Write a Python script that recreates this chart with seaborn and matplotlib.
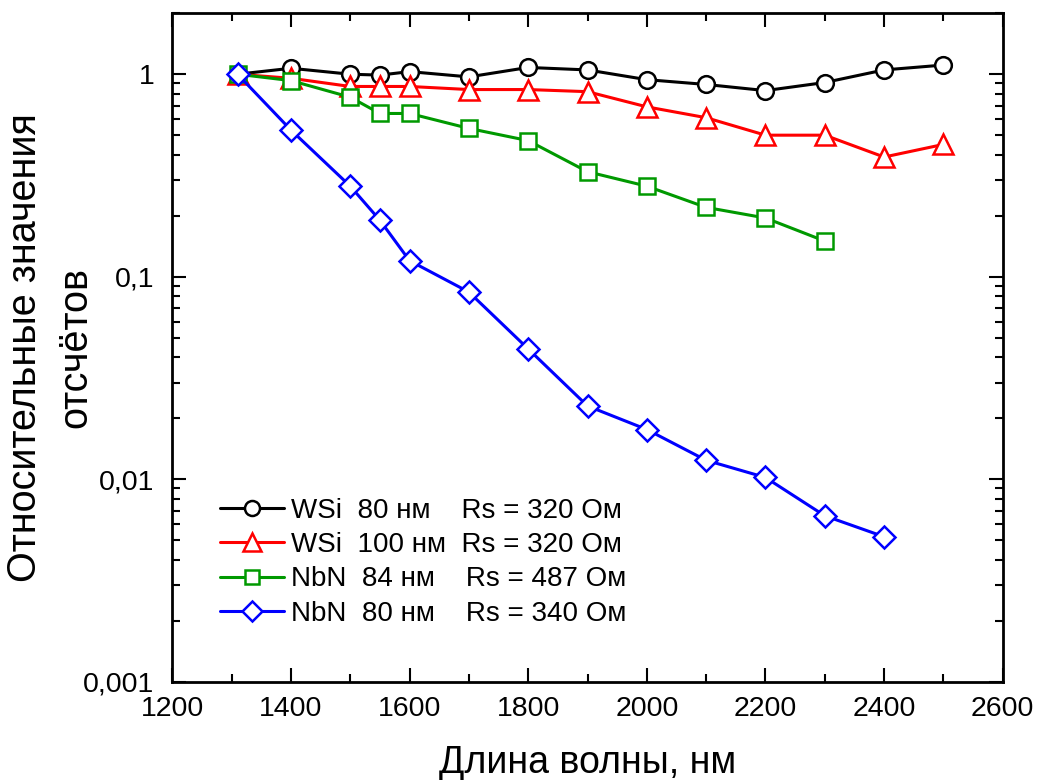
import numpy as np
import pandas as pd
import seaborn as sns
import matplotlib
matplotlib.use("Agg")
import matplotlib.pyplot as plt
from matplotlib.ticker import FixedLocator, FuncFormatter, LogLocator, NullFormatter, MultipleLocator

sns.set_style("ticks")
plt.rcParams['font.family'] = ['Liberation Sans', 'DejaVu Sans']
for k in ["text.color", "axes.labelcolor", "xtick.color", "ytick.color", "axes.edgecolor"]:
    plt.rcParams[k] = "black"

# data
wl_wsi = [1310, 1400, 1500, 1550, 1600, 1700, 1800, 1900, 2000, 2100, 2200, 2300, 2400, 2500]
wsi80 = [1.0, 1.07, 1.0, 0.99, 1.03, 0.97, 1.08, 1.05, 0.94, 0.89, 0.83, 0.91, 1.05, 1.11]
wsi100 = [1.0, 0.955, 0.87, 0.87, 0.87, 0.84, 0.84, 0.82, 0.69, 0.61, 0.50, 0.50, 0.39, 0.45]
wl_nbn84 = [1310, 1400, 1500, 1550, 1600, 1700, 1800, 1900, 2000, 2100, 2200, 2300]
nbn84 = [1.0, 0.93, 0.77, 0.64, 0.64, 0.54, 0.47, 0.33, 0.28, 0.22, 0.195, 0.15]
wl_nbn80 = [1310, 1400, 1500, 1550, 1600, 1700, 1800, 1900, 2000, 2100, 2200, 2300, 2400]
nbn80 = [1.0, 0.53, 0.28, 0.19, 0.12, 0.084, 0.044, 0.023, 0.0176, 0.0124, 0.0102, 0.0066, 0.0052]

labels = ["WSi  80 нм    Rs = 320 Ом",
          "WSi  100 нм  Rs = 320 Ом",
          "NbN  84 нм    Rs = 487 Ом",
          "NbN  80 нм    Rs = 340 Ом"]
colors = ["black", "red", "#009900", "blue"]
markers = ["o", "^", "s", "D"]
msizes = [12, 14, 11, 11]

series = [(wl_wsi, wsi80), (wl_wsi, wsi100), (wl_nbn84, nbn84), (wl_nbn80, nbn80)]

fig = plt.figure(figsize=(10.38, 7.8), dpi=100)
ax = fig.add_axes([0.166, 0.126, 0.8, 0.857])

for (x, y), lab, c, m, ms in zip(series, labels, colors, markers, msizes):
    df = pd.DataFrame({"wl": x, "val": y})
    sns.lineplot(data=df, x="wl", y="val", ax=ax, color=c, marker=m, markersize=ms,
                 markerfacecolor="white", markeredgecolor=c, markeredgewidth=1.8,
                 linewidth=2.2, label=lab)

ax.set_yscale("log")
ax.set_xlim(1200, 2600)
ax.set_ylim(0.001, 2.0)
ax.xaxis.set_major_locator(MultipleLocator(200))
ax.xaxis.set_minor_locator(MultipleLocator(100))
ax.yaxis.set_major_locator(FixedLocator([0.001, 0.01, 0.1, 1]))
ax.yaxis.set_minor_locator(LogLocator(base=10, subs=np.arange(2, 10)))
ax.yaxis.set_minor_formatter(NullFormatter())
ax.yaxis.set_major_formatter(FuncFormatter(lambda v, p: ("%g" % v).replace(".", ",")))

ax.tick_params(which="both", direction="in", top=True, right=True, width=1.5, labelsize=20.5)
ax.tick_params(which="major", length=10)
ax.tick_params(which="minor", length=6)
ax.tick_params(axis="x", pad=10)
ax.tick_params(axis="y", pad=13)
for s in ax.spines.values():
    s.set_linewidth(2)

ax.set_xlabel("Длина волны, нм", fontsize=27, va="baseline")
ax.xaxis.set_label_coords(0.5, -0.136)
ax.set_ylabel("Относительные значения\nотсчётов", fontsize=28.5, linespacing=1.4)
ax.yaxis.set_label_coords(-0.094, 0.5)

leg = ax.legend(loc="lower left", bbox_to_anchor=(0.027, 0.045), frameon=False, fontsize=20,
                handlelength=2.3, labelspacing=0.3, handletextpad=0.25, markerscale=0.9)

fig.savefig("out.png", dpi=100)
